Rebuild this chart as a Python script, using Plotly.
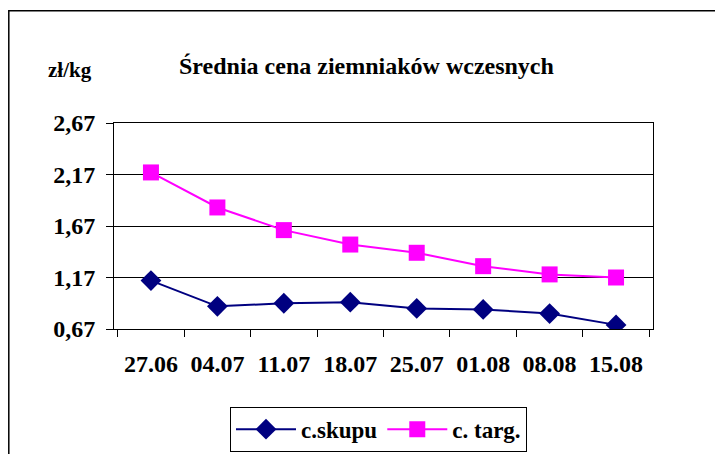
import plotly.graph_objects as go

categories = ["27.06", "04.07", "11.07", "18.07", "25.07", "01.08", "08.08", "15.08"]
c_skupu = [1.14, 0.89, 0.92, 0.93, 0.87, 0.86, 0.82, 0.71]
c_targ = [2.19, 1.85, 1.63, 1.49, 1.41, 1.28, 1.20, 1.17]
y_tickvals = [0.67, 1.17, 1.67, 2.17, 2.67]
y_ticktext = ["0,67", "1,17", "1,67", "2,17", "2,67"]

FONT = "Liberation Serif, Times New Roman, serif"

fig = go.Figure()
fig.add_trace(go.Scatter(
    x=categories, y=c_skupu, name="<b>c.skupu</b>", mode="lines+markers",
    line=dict(color="#000080", width=2),
    marker=dict(symbol="diamond", size=16, color="#000080"),
))
fig.add_trace(go.Scatter(
    x=categories, y=c_targ, name="<b>c. targ.</b>", mode="lines+markers",
    line=dict(color="#FF00FF", width=2),
    marker=dict(symbol="square", size=16, color="#FF00FF"),
))

OFF = 8  # page body offset
L, R, T, B = 114 - OFF, 653 - OFF, 123.3 - OFF, 329.3 - OFF
W, H = 723 - OFF, 454 - OFF

def px_x(p):
    return (p - OFF - L) / (R - L)

def px_y(p):
    return (B - (p - OFF)) / (B - T)

fig.update_layout(
    width=W, height=H,
    margin=dict(l=L, r=W - R, t=T, b=H - B, pad=0, autoexpand=False),
    paper_bgcolor="white", plot_bgcolor="white",
    font=dict(family=FONT, color="black"),
    showlegend=True,
    legend=dict(
        orientation="h", x=px_x(230), y=px_y(407), xanchor="left", yanchor="top",
        bordercolor="black", borderwidth=1, font=dict(size=23, family=FONT),
        itemwidth=60, tracegroupgap=0,
    ),
    xaxis=dict(
        type="category", showline=True, linecolor="black", linewidth=1, mirror=True,
        ticks="outside", tickson="boundaries", ticklen=7, tickcolor="black",
        showgrid=False, tickfont=dict(size=24, family=FONT),
        tickprefix="<b>", ticksuffix="</b>", ticklabelstandoff=13,
        fixedrange=True,
    ),
    yaxis=dict(
        range=[0.67, 2.67], tickvals=y_tickvals, ticktext=["<b>%s</b>" % t for t in y_ticktext],
        showline=True, linecolor="black", linewidth=1, mirror=True,
        ticks="outside", ticklen=7, tickcolor="black",
        showgrid=True, gridcolor="black", gridwidth=1,
        tickfont=dict(size=24, family=FONT), zeroline=False, ticklabelstandoff=6,
    ),
    annotations=[
        dict(text="<b>Średnia cena ziemniaków wczesnych</b>", xref="paper", yref="paper",
             x=px_x(366), y=px_y(66), showarrow=False, xanchor="center", yanchor="middle",
             font=dict(size=24, family=FONT)),
        dict(text="<b>zł/kg</b>", xref="paper", yref="paper",
             x=px_x(70), y=px_y(70), showarrow=False, xanchor="center", yanchor="middle",
             font=dict(size=21, family=FONT)),
    ],
    shapes=[
        dict(type="rect", xref="paper", yref="paper",
             x0=px_x(8.8), x1=px_x(760), y0=px_y(480), y1=px_y(11),
             line=dict(color="black", width=1.5), fillcolor="rgba(0,0,0,0)", layer="below"),
    ],
)

fig.write_html("out.html")
